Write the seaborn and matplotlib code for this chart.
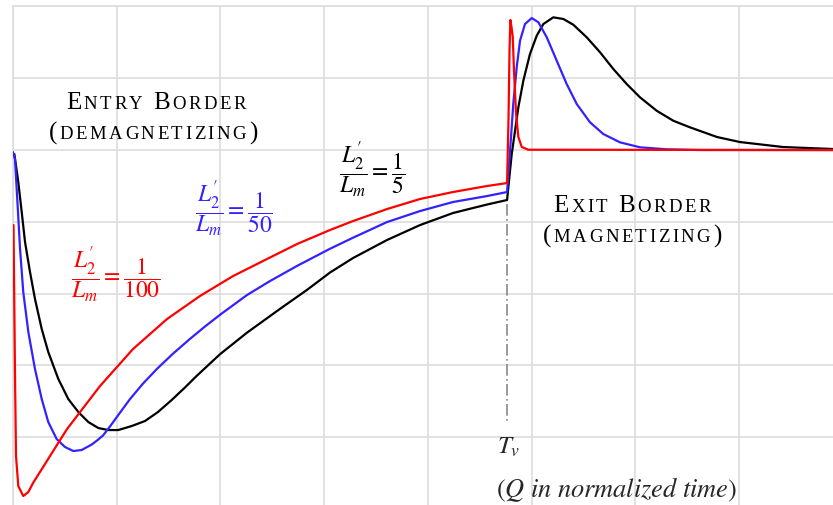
import numpy as np
import pandas as pd
import seaborn as sns
import matplotlib.pyplot as plt
from matplotlib.offsetbox import TextArea, HPacker, DrawingArea, AnnotationBbox

sns.set_style("white")
plt.rcParams['mathtext.fontset'] = 'stix'
plt.rcParams['font.family'] = ['Liberation Serif', 'DejaVu Serif']

# curves (x, y in grid units, 0 = steady state)
black_x = [0.013, 0.051, 0.084, 0.116, 0.164, 0.212, 0.277, 0.340, 0.437, 0.533, 0.630, 0.726,
           0.823, 0.919, 1.015, 1.145, 1.273, 1.398, 1.533, 1.659, 1.774, 1.996, 2.257, 2.575,
           2.835, 3.057, 3.279, 3.607, 3.925, 4.243, 4.571, 4.764,
           4.809, 4.841, 4.873, 4.921, 4.985, 5.050, 5.114, 5.210, 5.307, 5.403, 5.532, 5.661,
           5.789, 5.918, 6.046, 6.207, 6.367, 6.528, 6.789, 7.011, 7.425, 7.907]
black_y = [-0.056, -0.446, -0.864, -1.281, -1.699, -2.075, -2.493, -2.813, -3.189, -3.468, -3.649, -3.788,
           -3.872, -3.900, -3.900, -3.844, -3.774, -3.649, -3.478, -3.306, -3.142, -2.844, -2.543, -2.212,
           -1.948, -1.706, -1.504, -1.253, -1.045, -0.877, -0.759, -0.696,
           -0.056, 0.269, 0.595, 0.965, 1.337, 1.592, 1.755, 1.848, 1.825, 1.745, 1.570, 1.361,
           1.128, 0.919, 0.734, 0.547, 0.408, 0.316, 0.181, 0.111, 0.042, 0.014]

blue_x = [0.000, 0.019, 0.045, 0.068, 0.099, 0.148, 0.212, 0.277, 0.340, 0.421, 0.501, 0.581,
          0.662, 0.759, 0.810, 0.868, 0.935, 1.013, 1.128, 1.254, 1.389, 1.543, 1.707, 1.851,
          2.006, 2.257, 2.478, 2.739, 3.057, 3.279, 3.607, 3.925, 4.243, 4.571, 4.764,
          4.793, 4.824, 4.857, 4.889, 4.937, 5.002, 5.066, 5.147, 5.243, 5.339, 5.436, 5.564,
          5.692, 5.853, 6.046, 6.304, 6.625, 7.907]
blue_y = [-0.028, -0.125, -0.780, -1.379, -1.978, -2.535, -3.050, -3.468, -3.788, -4.025, -4.136, -4.192,
          -4.178, -4.102, -4.046, -3.976, -3.851, -3.695, -3.469, -3.252, -3.047, -2.836, -2.630, -2.458,
          -2.284, -2.019, -1.825, -1.614, -1.375, -1.221, -1.003, -0.850, -0.724, -0.641, -0.585,
          -0.010, 0.641, 1.152, 1.522, 1.755, 1.838, 1.779, 1.570, 1.244, 0.919, 0.641, 0.386,
          0.223, 0.107, 0.038, 0.010, 0.000, 0.000]

red_x = [0.005, 0.019, 0.029, 0.051, 0.099, 0.148, 0.193, 0.357, 0.521, 0.839, 1.157, 1.485,
         1.803, 2.122, 2.449, 2.739, 3.057, 3.279, 3.607, 3.925, 4.243, 4.571, 4.764,
         4.778, 4.788, 4.796, 4.807, 4.819, 4.831, 4.851, 4.873, 4.906, 4.969, 7.907]
red_y = [-1.045, -3.092, -4.262, -4.680, -4.819, -4.763, -4.638, -4.262, -3.886, -3.287, -2.772, -2.354,
         -2.033, -1.755, -1.518, -1.309, -1.114, -0.989, -0.822, -0.682, -0.585, -0.501, -0.460,
         0.432, 1.407, 1.811, 1.713, 1.574, 1.100, 0.501, 0.181, 0.042, 0.004, 0.000]

t_v = 4.764

df = pd.concat([
    pd.DataFrame({'t': black_x, 'q': black_y, 'ratio': '1/5'}),
    pd.DataFrame({'t': blue_x, 'q': blue_y, 'ratio': '1/50'}),
    pd.DataFrame({'t': red_x, 'q': red_y, 'ratio': '1/100'}),
], ignore_index=True)

colors = {'1/5': 'black', '1/50': '#3322ff', '1/100': '#ff0000'}

fig = plt.figure(figsize=(8.33, 5.06), dpi=100)
ax = fig.add_axes([13 / 833, 0, 820 / 833, 1 - 7 / 506])

sns.lineplot(data=df, x='t', y='q', hue='ratio', palette=colors, sort=False,
             estimator=None, linewidth=1.6, legend=False, ax=ax, zorder=3)

ax.set_xlim(0, 7.907)
ax.set_ylim(-4.944, 2.006)
ax.set_xticks(range(0, 8))
ax.set_yticks(range(-4, 3))
ax.grid(True, color='#dddddd', linewidth=1.2)
ax.tick_params(length=0, labelbottom=False, labelleft=False)
ax.set_xlabel('')
ax.set_ylabel('')
for side in ['right', 'bottom']:
    ax.spines[side].set_visible(False)
for side in ['left', 'top']:
    ax.spines[side].set_color('#dddddd')
    ax.spines[side].set_linewidth(1.2)

ax.plot([t_v, t_v], [-0.75, -3.82], color='#888888', linestyle=(0, (7, 2, 1, 2)),
        linewidth=1.2, zorder=2)


def smallcaps(s, xy, big=18, small=13.5):
    parts = []
    for ch in s:
        if ch == ' ':
            parts.append(DrawingArea(4, 1))
        elif ch.isupper() or ch in '()':
            parts.append(TextArea(ch, textprops=dict(fontsize=big, color='black')))
        else:
            parts.append(TextArea(ch.upper(), textprops=dict(fontsize=small, color='black')))
    box = HPacker(children=parts, align='baseline', pad=0, sep=1.8)
    ab = AnnotationBbox(box, xy, xycoords='data', frameon=False,
                        box_alignment=(0.5, 0.5), pad=0)
    ax.add_artist(ab)


smallcaps('Entry Border', (1.379, 0.669))
smallcaps('(demagnetizing)', (1.350, 0.251))
smallcaps('Exit Border', (5.969, -0.766))
smallcaps('(magnetizing)', (5.969, -1.184))

frac = r"$\dfrac{L_{2}^{\prime}}{L_m}=\dfrac{1}{%s}$"
ax.text(3.462, -0.265, frac % '5', color='black', fontsize=17, ha='center', va='center')
ax.text(2.131, -0.808, frac % '50', color='#3322ff', fontsize=17, ha='center', va='center')
ax.text(0.993, -1.727, frac % '100', color='#ff0000', fontsize=17, ha='center', va='center')

ax.text(4.783, -4.123, r"$T_v$", fontsize=18, ha='center', va='center')
ax.text(5.824, -4.721, r"$\left(Q\ \mathit{in\ normalized\ time}\right)$", fontsize=19,
        ha='center', va='center')

fig.savefig('out.png', dpi=100)
